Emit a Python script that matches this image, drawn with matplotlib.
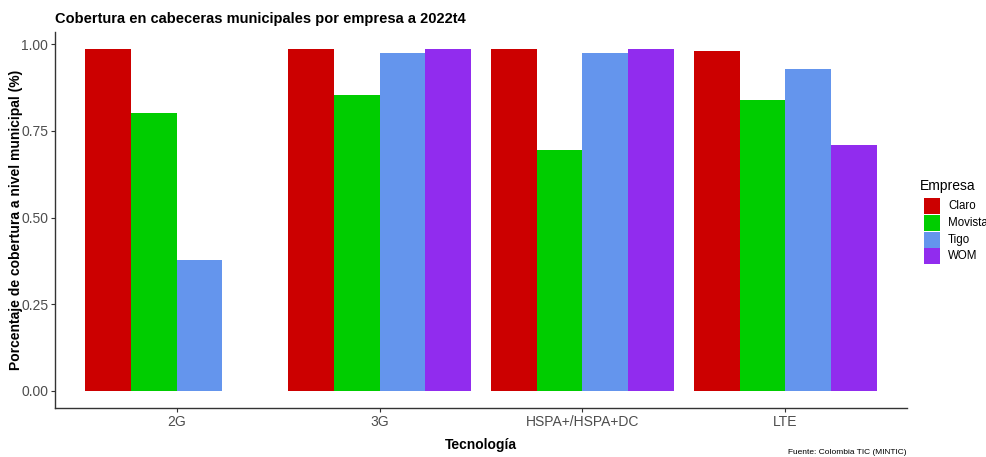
import matplotlib
matplotlib.use("Agg")
import matplotlib.pyplot as plt
from matplotlib.patches import Rectangle
import numpy as np

plt.rcParams['font.family'] = ['Liberation Sans', 'DejaVu Sans']

categories = ["2G", "3G", "HSPA+/HSPA+DC", "LTE"]
empresas = ["Claro", "Movistar", "Tigo", "WOM"]
colors = ["#CC0000", "#00CD00", "#6495ED", "#912CEE"]
claro = [0.986, 0.986, 0.986, 0.979]
movistar = [0.802, 0.854, 0.694, 0.838]
tigo = [0.377, 0.974, 0.974, 0.928]
wom = [np.nan, 0.986, 0.986, 0.709]
series = [claro, movistar, tigo, wom]

W, H = 987, 457
fig = plt.figure(figsize=(W / 100, H / 100), dpi=100)

def fx(px):
    return px / W

def fy(py):
    return 1 - py / H

left, right, top, bottom = 55, 907, 32, 408
ax = fig.add_axes([fx(left), fy(bottom), fx(right - left), (bottom - top) / H])

x = np.arange(1, len(categories) + 1)
bw = 0.225
for i, (vals, col) in enumerate(zip(series, colors)):
    present = [j for j, v in enumerate(vals) if not np.isnan(v)]
    ax.bar(x[present] + (i - 1.5) * bw, [vals[j] for j in present], width=bw,
           color=col, edgecolor='none')

ax.set_xlim(0.4, 4.6)
ax.set_ylim(-0.0493, 1.035)
ax.set_xticks(x)
ax.set_xticklabels(categories)
ax.set_yticks([0, 0.25, 0.5, 0.75, 1.0])
ax.set_yticklabels(["0.00", "0.25", "0.50", "0.75", "1.00"])
for s in ["top", "right"]:
    ax.spines[s].set_visible(False)
for s in ["left", "bottom"]:
    ax.spines[s].set_color("#333333")
    ax.spines[s].set_linewidth(1.0)
ax.tick_params(axis='both', colors="#333333", length=2.8, width=0.8,
               labelsize=10, labelcolor="#4D4D4D", pad=2)

ax.set_xlabel("Tecnología", fontsize=10, fontweight='bold')
ax.xaxis.set_label_coords(0.5, -(438 - bottom) / (bottom - top))
ax.set_ylabel("Porcentaje de cobertura a nivel municipal (%)", fontsize=10,
              fontweight='bold', va='center')
ax.yaxis.set_label_coords(-(left - 16) / (right - left), 0.5)

fig.text(fx(55), fy(19), "Cobertura en cabeceras municipales por empresa a 2022t4",
         fontsize=10.5, fontweight='bold', ha='left', va='center')
fig.text(fx(907), fy(453), "Fuente: Colombia TIC (MINTIC)", fontsize=6,
         ha='right', va='center')

# legend
fig.text(fx(920), fy(186), "Empresa", fontsize=10, ha='left', va='center')
for i, (name, col) in enumerate(zip(empresas, colors)):
    y0 = 198 + i * 16.8
    fig.add_artist(Rectangle((fx(924), fy(y0 + 16)), fx(16), 16 / H,
                             transform=fig.transFigure, color=col, lw=0))
    fig.text(fx(948), fy(y0 + 8), name, fontsize=8.3, ha='left', va='center')

fig.savefig("out.png", dpi=100)
